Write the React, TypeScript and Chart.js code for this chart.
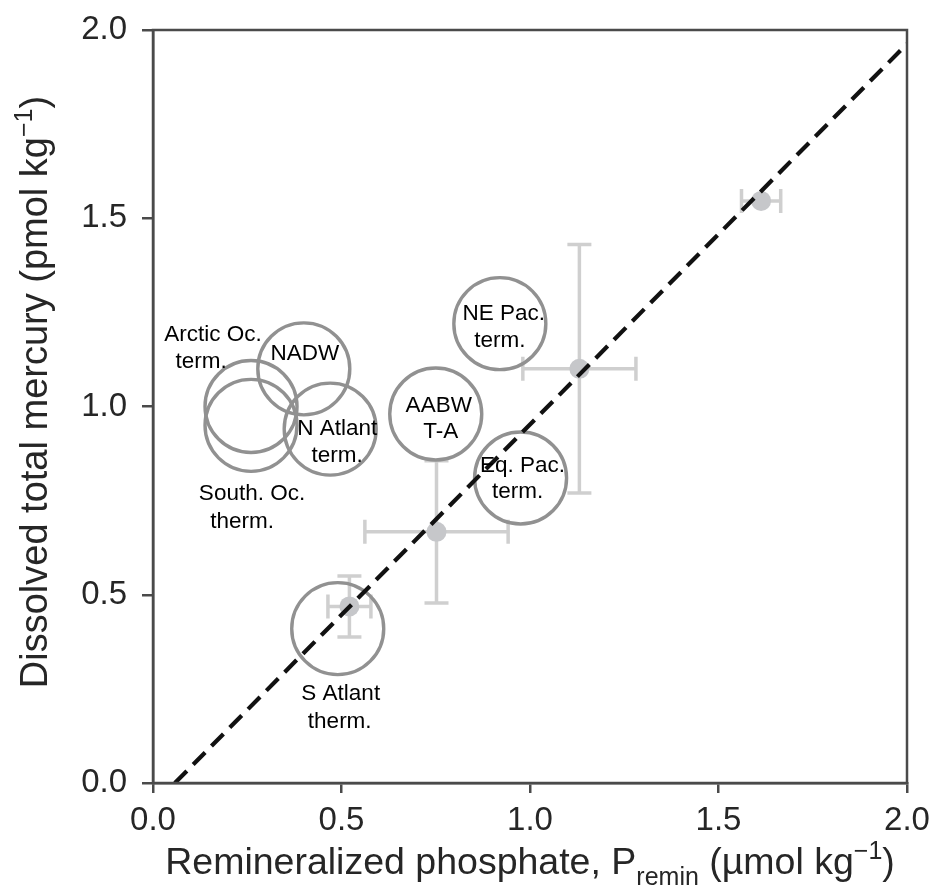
import React, { useEffect, useRef } from "react";
import { Chart, registerables } from "chart.js";

Chart.register(...registerables);

// ---------- data ----------
const xTickValues = [0, 0.5, 1.0, 1.5, 2.0];
const yTickValues = [0, 0.5, 1.0, 1.5, 2.0];

// water-mass circles (P_remin, Hg)
const waterMassNames = [
  "Arctic Oc.\nterm.",
  "NADW",
  "N Atlant\nterm.",
  "South. Oc.\ntherm.",
  "AABW\nT-A",
  "NE Pac.\nterm.",
  "Eq. Pac.\nterm.",
  "S Atlant\ntherm.",
];
const waterMassP = [0.26, 0.4, 0.47, 0.26, 0.75, 0.92, 0.975, 0.49];
const waterMassHg = [1.0, 1.1, 0.94, 0.95, 0.98, 1.22, 0.81, 0.41];

// observations with error bars
const obsP = [0.521, 0.752, 1.131, 1.613];
const obsHg = [0.469, 0.667, 1.1, 1.546];
const obsPErr = [0.057, 0.19, 0.15, 0.052];
const obsHgErr = [0.081, 0.189, 0.33, 0.012];

// regression line end points
const fitP = [0.058, 2.0];
const fitHg = [0.0, 1.963];

// ---------- style ----------
const FONT = '"Liberation Sans", Arial, Helvetica, sans-serif';
const AXIS_COLOR = "#4a4a4a";
const AXIS_TEXT = "#262626";
const CIRCLE_COLOR = "#919191";
const ERR_COLOR = "#cfcfcf";
const DOT_COLOR = "#c6c7ca";
// per-line label offsets (px from circle centre: [dx, dyBaseline])
const LABEL_OFFSETS: number[][][] = [
  [[-38, -66], [-50, -39]],
  [[1, -9]],
  [[7, 6], [7, 33]],
  [[1, 75], [-9, 103]],
  [[3, -2], [5, 24]],
  [[4, -4], [0, 23]],
  [[2, -6], [-3, 20]],
  [[3, 71], [2, 99]],
];

type Part = { text: string; kind: "main" | "sub" | "sup" };

function drawRich(ctx: CanvasRenderingContext2D, parts: Part[], size: number) {
  const small = Math.round(size * 0.66);
  const fontFor = (k: string) => `${k === "main" ? size : small}px ${FONT}`;
  let total = 0;
  const widths = parts.map((p) => {
    ctx.font = fontFor(p.kind);
    const w = ctx.measureText(p.text).width;
    total += w;
    return w;
  });
  let x = -total / 2;
  parts.forEach((p, i) => {
    ctx.font = fontFor(p.kind);
    const dy = p.kind === "sub" ? size * 0.3 : p.kind === "sup" ? -size * 0.4 : 0;
    ctx.fillText(p.text, x, dy);
    x += widths[i];
  });
}

const customPlugin = {
  id: "custom",
  beforeDatasetsDraw(chart: any) {
    const { ctx, scales } = chart;
    const xs = scales.x;
    const ys = scales.y;
    ctx.save();
    ctx.strokeStyle = ERR_COLOR;
    ctx.lineWidth = 3.5;
    const cap = 12;
    obsP.forEach((p, i) => {
      const cx = xs.getPixelForValue(p);
      const cy = ys.getPixelForValue(obsHg[i]);
      const x1 = xs.getPixelForValue(p - obsPErr[i]);
      const x2 = xs.getPixelForValue(p + obsPErr[i]);
      const y1 = ys.getPixelForValue(obsHg[i] - obsHgErr[i]);
      const y2 = ys.getPixelForValue(obsHg[i] + obsHgErr[i]);
      ctx.beginPath();
      ctx.moveTo(x1, cy);
      ctx.lineTo(x2, cy);
      ctx.moveTo(x1, cy - cap);
      ctx.lineTo(x1, cy + cap);
      ctx.moveTo(x2, cy - cap);
      ctx.lineTo(x2, cy + cap);
      ctx.moveTo(cx, y1);
      ctx.lineTo(cx, y2);
      if (Math.abs(y1 - y2) > 12) {
        ctx.moveTo(cx - cap, y1);
        ctx.lineTo(cx + cap, y1);
        ctx.moveTo(cx - cap, y2);
        ctx.lineTo(cx + cap, y2);
      }
      ctx.stroke();
    });
    ctx.restore();
  },
  afterDatasetsDraw(chart: any) {
    const { ctx, scales, chartArea } = chart;
    const xs = scales.x;
    const ys = scales.y;
    ctx.save();
    // labels
    ctx.fillStyle = "#000";
    ctx.font = `22.5px ${FONT}`;
    ctx.textAlign = "center";
    ctx.textBaseline = "alphabetic";
    waterMassNames.forEach((name, i) => {
      const cx = xs.getPixelForValue(waterMassP[i]);
      const cy = ys.getPixelForValue(waterMassHg[i]);
      name.split("\n").forEach((line, j) => {
        const off = LABEL_OFFSETS[i][j];
        ctx.fillText(line, cx + off[0], cy + off[1]);
      });
    });
    // frame
    ctx.strokeStyle = AXIS_COLOR;
    ctx.lineWidth = 2.5;
    ctx.strokeRect(chartArea.left, chartArea.top, chartArea.right - chartArea.left, chartArea.bottom - chartArea.top);
    ctx.restore();
  },
  afterDraw(chart: any) {
    const { ctx, chartArea } = chart;
    ctx.save();
    ctx.fillStyle = AXIS_TEXT;
    ctx.textAlign = "left";
    ctx.textBaseline = "alphabetic";
    // x title
    ctx.save();
    ctx.translate((chartArea.left + chartArea.right) / 2, 874);
    drawRich(
      ctx,
      [
        { text: "Remineralized phosphate, P", kind: "main" },
        { text: "remin", kind: "sub" },
        { text: " (µmol kg", kind: "main" },
        { text: "−1", kind: "sup" },
        { text: ")", kind: "main" },
      ],
      37.5
    );
    ctx.restore();
    // y title
    ctx.save();
    ctx.translate(47, 392);
    ctx.rotate(-Math.PI / 2);
    drawRich(
      ctx,
      [
        { text: "Dissolved total mercury (pmol kg", kind: "main" },
        { text: "−1", kind: "sup" },
        { text: ")", kind: "main" },
      ],
      38
    );
    ctx.restore();
    ctx.restore();
  },
};

export default function App() {
  const ref = useRef<HTMLCanvasElement | null>(null);
  useEffect(() => {
    if (!ref.current) return;
    const chart = new Chart(ref.current, {
      type: "scatter",
      data: {
        datasets: [
          {
            type: "line",
            label: "fit",
            data: fitP.map((p, i) => ({ x: p, y: fitHg[i] })),
            borderColor: "#111",
            borderWidth: 4.2,
            borderDash: [17, 9],
            pointRadius: 0,
            fill: false,
            order: 0,
          } as any,
          {
            label: "water masses",
            data: waterMassP.map((p, i) => ({ x: p, y: waterMassHg[i] })),
            pointRadius: 46,
            pointBackgroundColor: "rgba(255,255,255,0)",
            pointBorderColor: CIRCLE_COLOR,
            pointBorderWidth: 3.4,
            order: 1,
          },
          {
            label: "observations",
            data: obsP.map((p, i) => ({ x: p, y: obsHg[i] })),
            pointRadius: 10,
            pointBackgroundColor: DOT_COLOR,
            pointBorderWidth: 0,
            order: 2,
          },
        ],
      },
      options: {
        animation: false,
        responsive: false,
        devicePixelRatio: 1,
        events: [],
        layout: { autoPadding: false, padding: { left: 0, right: 28, top: 30, bottom: 0 } },
        plugins: { legend: { display: false }, tooltip: { enabled: false } },
        scales: {
          x: {
            type: "linear",
            min: 0,
            max: 2,
            afterFit: (s: any) => {
              s.height = 111;
              s.paddingLeft = 0;
              s.paddingRight = 0;
              s.paddingTop = 0;
              s.paddingBottom = 0;
            },
            afterBuildTicks: (s: any) => {
              s.ticks = xTickValues.map((v) => ({ value: v }));
            },
            ticks: {
              callback: (v: any) => Number(v).toFixed(1),
              font: { family: FONT, size: 33 },
              color: AXIS_TEXT,
              padding: 8,
              maxRotation: 0,
              autoSkip: false,
            },
            grid: { drawOnChartArea: false, drawTicks: true, tickLength: 10, color: AXIS_COLOR, lineWidth: 2.5 },
            border: { display: true, color: AXIS_COLOR, width: 2.5 },
          },
          y: {
            type: "linear",
            min: 0,
            max: 2,
            afterFit: (s: any) => {
              s.width = 153;
              s.paddingLeft = 0;
              s.paddingRight = 0;
              s.paddingTop = 0;
              s.paddingBottom = 0;
            },
            afterBuildTicks: (s: any) => {
              s.ticks = yTickValues.map((v) => ({ value: v }));
            },
            ticks: {
              callback: (v: any) => Number(v).toFixed(1),
              font: { family: FONT, size: 33 },
              color: AXIS_TEXT,
              padding: 15,
              autoSkip: false,
            },
            grid: { drawOnChartArea: false, drawTicks: true, tickLength: 11, color: AXIS_COLOR, lineWidth: 2.5 },
            border: { display: true, color: AXIS_COLOR, width: 2.5 },
          },
        },
      },
      plugins: [customPlugin],
    });
    return () => chart.destroy();
  }, []);
  return (
    <div style={{ position: "absolute", left: 0, top: 0, width: 935, height: 894, background: "#fff" }}>
      <canvas ref={ref} width={935} height={894} style={{ width: 935, height: 894, display: "block" }} />
    </div>
  );
}
